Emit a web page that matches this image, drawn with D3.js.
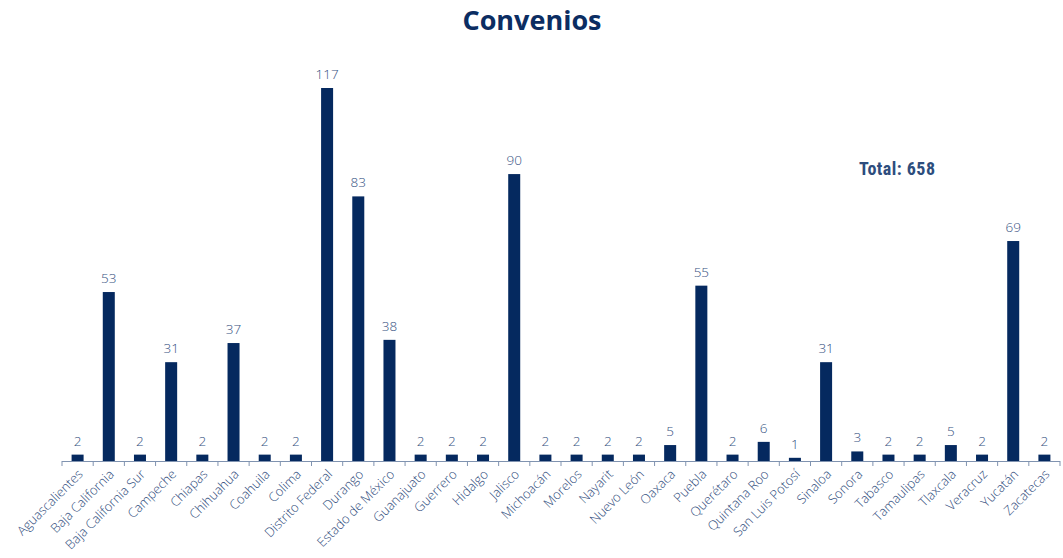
<!DOCTYPE html>
<html><head><meta charset="utf-8">
<script src="https://cdn.jsdelivr.net/npm/d3@7"></script>
<style>body{margin:0;background:#fff}svg{display:block}</style>
</head><body>
<svg id="c" width="1063" height="558"></svg>
<script>
const categories = ["Aguascalientes","Baja California","Baja California Sur","Campeche","Chiapas","Chihuahua","Coahuila","Colima","Distrito Federal","Durango","Estado de México","Guanajuato","Guerrero","Hidalgo","Jalisco","Michoacán","Morelos","Nayarit","Nuevo León","Oaxaca","Puebla","Querétaro","Quintana Roo","San Luis Potosí","Sinaloa","Sonora","Tabasco","Tamaulipas","Tlaxcala","Veracruz","Yucatán","Zacatecas"];
const values = [2,53,2,31,2,37,2,2,117,83,38,2,2,2,90,2,2,2,2,5,55,2,6,1,31,3,2,2,5,2,69,2];
const title = "Convenios";
const totalLabel = "Total: 658";

const svg = d3.select("#c");
const plotLeft = 62, plotRight = 1060, plotBase = 461, plotTop = 88;
const x = d3.scaleBand().domain(categories).range([plotLeft, plotRight]).paddingInner(0.615).paddingOuter(0.3075);
const y = d3.scaleLinear().domain([0, 117]).range([plotBase, plotTop]);
const font = "'Open Sans', 'DejaVu Sans', sans-serif";

svg.append("text").attr("x", 532).attr("y", 30).attr("text-anchor", "middle")
  .attr("font-family", font).attr("font-weight", 700).attr("font-size", 27)
  .attr("fill", "#0b2d62").text(title);

svg.append("text").attr("x", 897).attr("y", 175).attr("text-anchor", "middle")
  .attr("font-family", "'Liberation Sans Narrow', 'Roboto Condensed', Roboto, sans-serif").attr("font-weight", 700).attr("font-size", 18)
  .attr("fill", "#2d4d7d").attr("textLength", 76).text(totalLabel);

svg.selectAll("rect.bar").data(values).join("rect").attr("class","bar")
  .attr("x", (d,i) => x(categories[i])).attr("width", x.bandwidth())
  .attr("y", d => y(d)).attr("height", d => plotBase - y(d)).attr("fill", "#05295f");

svg.selectAll("text.val").data(values).join("text").attr("class","val")
  .attr("x", (d,i) => x(categories[i]) + x.bandwidth()/2).attr("y", d => y(d) - 9)
  .attr("text-anchor", "middle").attr("font-family", font).attr("font-weight", 300).attr("font-size", 13.5)
  .attr("fill", "#35517f").text(d => d);

// axis
const step = x.step();
const g = svg.append("g");
g.append("line").attr("x1", plotLeft).attr("x2", plotRight).attr("y1", plotBase + 0.5).attr("y2", plotBase + 0.5)
  .attr("stroke", "#8093b0").attr("stroke-width", 1.2);
const tickPos = d3.range(categories.length + 1).map(i => plotLeft + i * step);
g.selectAll("line.t").data(tickPos).join("line").attr("class","t")
  .attr("x1", d => d).attr("x2", d => d).attr("y1", plotBase).attr("y2", plotBase + 5)
  .attr("stroke", "#8093b0").attr("stroke-width", 1);

g.selectAll("text.cat").data(categories).join("text").attr("class","cat")
  .attr("transform", d => `translate(${x(d) + x.bandwidth()/2 + 6},${plotBase + 14}) rotate(-45)`)
  .attr("text-anchor", "end").attr("font-family", font).attr("font-weight", 300).attr("font-size", 13)
  .attr("fill", "#2f4c7c").text(d => d);
</script>
</body></html>
